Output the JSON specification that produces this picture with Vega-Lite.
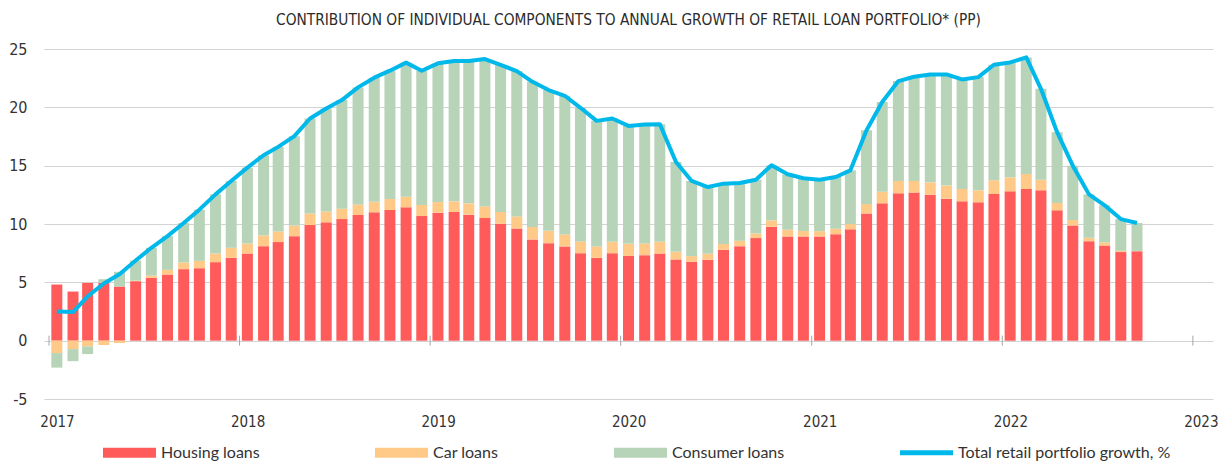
{
  "$schema": "https://vega.github.io/schema/vega-lite/v6.json",
  "width": 1169,
  "height": 350,
  "autosize": {"type": "none"},
  "padding": {"left": 44, "top": 49, "right": 19, "bottom": 69},
  "background": "white",
  "title": {
    "text": "CONTRIBUTION OF INDIVIDUAL COMPONENTS TO ANNUAL GROWTH OF RETAIL LOAN PORTFOLIO* (PP)",
    "font": "Liberation Sans Narrow, DejaVu Sans Condensed, Roboto",
    "fontSize": 15.3,
    "fontWeight": "normal",
    "color": "#2B2B2B",
    "anchor": "middle",
    "offset": 13
  },
  "datasets": {
    "monthly": [
      {"month": "2017-01-16", "housing": 4.81, "car": -1.06, "consumer": -1.25, "total": 2.5},
      {"month": "2017-02-16", "housing": 4.21, "car": -0.72, "consumer": -1.04, "total": 2.45},
      {"month": "2017-03-16", "housing": 4.95, "car": -0.49, "consumer": -0.66, "total": 3.8},
      {"month": "2017-04-16", "housing": 4.95, "car": -0.37, "consumer": 0.32, "total": 4.9},
      {"month": "2017-05-16", "housing": 4.64, "car": -0.2, "consumer": 1.26, "total": 5.7},
      {"month": "2017-06-16", "housing": 5.10, "car": 0.05, "consumer": 1.72, "total": 6.87},
      {"month": "2017-07-16", "housing": 5.38, "car": 0.2, "consumer": 2.38, "total": 7.96},
      {"month": "2017-08-16", "housing": 5.67, "car": 0.4, "consumer": 2.89, "total": 8.96},
      {"month": "2017-09-16", "housing": 6.13, "car": 0.57, "consumer": 3.38, "total": 10.08},
      {"month": "2017-10-16", "housing": 6.21, "car": 0.63, "consumer": 4.39, "total": 11.23},
      {"month": "2017-11-16", "housing": 6.73, "car": 0.74, "consumer": 5.07, "total": 12.54},
      {"month": "2017-12-16", "housing": 7.10, "car": 0.86, "consumer": 5.73, "total": 13.69},
      {"month": "2018-01-16", "housing": 7.47, "car": 0.86, "consumer": 6.50, "total": 14.83},
      {"month": "2018-02-16", "housing": 8.10, "car": 0.92, "consumer": 6.87, "total": 15.89},
      {"month": "2018-03-16", "housing": 8.45, "car": 0.91, "consumer": 7.25, "total": 16.61},
      {"month": "2018-04-16", "housing": 8.96, "car": 0.92, "consumer": 7.65, "total": 17.53},
      {"month": "2018-05-16", "housing": 9.91, "car": 1.00, "consumer": 8.13, "total": 19.04},
      {"month": "2018-06-16", "housing": 10.14, "car": 0.94, "consumer": 8.82, "total": 19.90},
      {"month": "2018-07-16", "housing": 10.42, "car": 0.89, "consumer": 9.31, "total": 20.62},
      {"month": "2018-08-16", "housing": 10.77, "car": 0.91, "consumer": 10.03, "total": 21.71},
      {"month": "2018-09-16", "housing": 11.00, "car": 0.91, "consumer": 10.63, "total": 22.54},
      {"month": "2018-10-16", "housing": 11.20, "car": 0.94, "consumer": 11.00, "total": 23.14},
      {"month": "2018-11-16", "housing": 11.43, "car": 0.91, "consumer": 11.49, "total": 23.83},
      {"month": "2018-12-16", "housing": 10.68, "car": 0.95, "consumer": 11.51, "total": 23.14},
      {"month": "2019-01-16", "housing": 10.97, "car": 0.91, "consumer": 11.89, "total": 23.77},
      {"month": "2019-02-16", "housing": 11.03, "car": 0.91, "consumer": 12.03, "total": 23.97},
      {"month": "2019-03-16", "housing": 10.80, "car": 0.97, "consumer": 12.20, "total": 23.97},
      {"month": "2019-04-16", "housing": 10.51, "car": 1.00, "consumer": 12.63, "total": 24.14},
      {"month": "2019-05-16", "housing": 10.02, "car": 1.01, "consumer": 12.60, "total": 23.63},
      {"month": "2019-06-16", "housing": 9.62, "car": 1.03, "consumer": 12.46, "total": 23.11},
      {"month": "2019-07-16", "housing": 8.68, "car": 1.06, "consumer": 12.45, "total": 22.19},
      {"month": "2019-08-16", "housing": 8.36, "car": 1.06, "consumer": 12.06, "total": 21.48},
      {"month": "2019-09-16", "housing": 8.08, "car": 1.03, "consumer": 11.88, "total": 20.99},
      {"month": "2019-10-16", "housing": 7.50, "car": 1.01, "consumer": 11.45, "total": 19.96},
      {"month": "2019-11-16", "housing": 7.10, "car": 0.98, "consumer": 10.76, "total": 18.84},
      {"month": "2019-12-16", "housing": 7.50, "car": 0.98, "consumer": 10.56, "total": 19.04},
      {"month": "2020-01-16", "housing": 7.27, "car": 1.03, "consumer": 10.11, "total": 18.41},
      {"month": "2020-02-16", "housing": 7.33, "car": 1.00, "consumer": 10.20, "total": 18.53},
      {"month": "2020-03-16", "housing": 7.47, "car": 1.01, "consumer": 10.08, "total": 18.56},
      {"month": "2020-04-16", "housing": 6.96, "car": 0.66, "consumer": 7.70, "total": 15.32},
      {"month": "2020-05-16", "housing": 6.76, "car": 0.49, "consumer": 6.44, "total": 13.69},
      {"month": "2020-06-16", "housing": 6.93, "car": 0.52, "consumer": 5.72, "total": 13.17},
      {"month": "2020-07-16", "housing": 7.79, "car": 0.49, "consumer": 5.18, "total": 13.46},
      {"month": "2020-08-16", "housing": 8.10, "car": 0.46, "consumer": 4.96, "total": 13.52},
      {"month": "2020-09-16", "housing": 8.79, "car": 0.40, "consumer": 4.61, "total": 13.80},
      {"month": "2020-10-16", "housing": 9.77, "car": 0.54, "consumer": 4.72, "total": 15.03},
      {"month": "2020-11-16", "housing": 8.93, "car": 0.58, "consumer": 4.75, "total": 14.26},
      {"month": "2020-12-16", "housing": 8.93, "car": 0.47, "consumer": 4.52, "total": 13.92},
      {"month": "2021-01-16", "housing": 8.93, "car": 0.46, "consumer": 4.41, "total": 13.80},
      {"month": "2021-02-16", "housing": 9.13, "car": 0.46, "consumer": 4.44, "total": 14.03},
      {"month": "2021-03-16", "housing": 9.54, "car": 0.45, "consumer": 4.61, "total": 14.60},
      {"month": "2021-04-16", "housing": 10.91, "car": 0.80, "consumer": 6.33, "total": 18.04},
      {"month": "2021-05-16", "housing": 11.77, "car": 1.00, "consumer": 7.68, "total": 20.45},
      {"month": "2021-06-16", "housing": 12.63, "car": 1.06, "consumer": 8.56, "total": 22.25},
      {"month": "2021-07-16", "housing": 12.69, "car": 1.00, "consumer": 8.93, "total": 22.62},
      {"month": "2021-08-16", "housing": 12.51, "car": 1.06, "consumer": 9.25, "total": 22.82},
      {"month": "2021-09-16", "housing": 12.17, "car": 1.12, "consumer": 9.53, "total": 22.82},
      {"month": "2021-10-16", "housing": 11.94, "car": 1.06, "consumer": 9.39, "total": 22.39},
      {"month": "2021-11-16", "housing": 11.86, "car": 1.03, "consumer": 9.70, "total": 22.59},
      {"month": "2021-12-16", "housing": 12.57, "car": 1.18, "consumer": 9.90, "total": 23.65},
      {"month": "2022-01-16", "housing": 12.80, "car": 1.20, "consumer": 9.85, "total": 23.85},
      {"month": "2022-02-16", "housing": 13.00, "car": 1.29, "consumer": 9.99, "total": 24.28},
      {"month": "2022-03-16", "housing": 12.89, "car": 0.91, "consumer": 7.79, "total": 21.59},
      {"month": "2022-04-16", "housing": 11.17, "car": 0.63, "consumer": 6.07, "total": 17.87},
      {"month": "2022-05-16", "housing": 9.88, "car": 0.46, "consumer": 4.66, "total": 15.0},
      {"month": "2022-06-16", "housing": 8.53, "car": 0.29, "consumer": 3.72, "total": 12.54},
      {"month": "2022-07-16", "housing": 8.16, "car": 0.26, "consumer": 3.18, "total": 11.60},
      {"month": "2022-08-16", "housing": 7.59, "car": 0.11, "consumer": 2.72, "total": 10.42},
      {"month": "2022-09-16", "housing": 7.67, "car": 0.02, "consumer": 2.39, "total": 10.08}
    ],
    "series": [
      {"key": "housing", "label": "Housing loans", "rank": 1},
      {"key": "car", "label": "Car loans", "rank": 2},
      {"key": "consumer", "label": "Consumer loans", "rank": 3}
    ],
    "years": [
      {"year": "2017-01-01"}, {"year": "2018-01-01"}, {"year": "2019-01-01"},
      {"year": "2020-01-01"}, {"year": "2021-01-01"}, {"year": "2022-01-01"}, {"year": "2023-01-01"}
    ]
  },
  "layer": [
    {
      "data": {"name": "monthly"},
      "transform": [
        {"fold": ["housing", "car", "consumer"], "as": ["key", "value"]},
        {"lookup": "key", "from": {"data": {"name": "series"}, "key": "key", "fields": ["label", "rank"]}}
      ],
      "mark": {"type": "bar", "width": 11},
      "encoding": {
        "x": {
          "field": "month",
          "type": "temporal",
          "scale": {
            "type": "utc",
            "domain": [
              {"year": 2017, "month": 1, "date": 1, "utc": true},
              {"year": 2023, "month": 1, "date": 30, "utc": true}
            ]
          },
          "axis": {
            "title": null,
            "format": "%Y",
            "tickCount": {"interval": "year", "step": 1},
            "domain": false,
            "ticks": false,
            "tickSize": 0,
            "grid": false,
            "labelFlush": false,
            "labelOverlap": false,
            "labelBound": false,
            "labelOffset": 8,
            "labelPadding": 15,
            "labelFont": "Liberation Sans Narrow, DejaVu Sans Condensed, Roboto",
            "labelFontSize": 15,
            "labelColor": "#333333"
          }
        },
        "y": {
          "field": "value",
          "type": "quantitative",
          "stack": "zero",
          "scale": {"domain": [-5, 25], "nice": false, "zero": false},
          "axis": {
            "title": null,
            "values": [-5, 0, 5, 10, 15, 20, 25],
            "labelExpr": "'' + datum.value",
            "domain": false,
            "ticks": false,
            "tickSize": 0,
            "grid": true,
            "gridColor": "#D3D3D3",
            "gridWidth": 1,
            "labelPadding": 17,
            "labelFont": "Liberation Sans Narrow, DejaVu Sans Condensed, Roboto",
            "labelFontSize": 16,
            "labelColor": "#333333"
          }
        },
        "color": {
          "field": "label",
          "type": "nominal",
          "scale": {
            "domain": ["Housing loans", "Car loans", "Consumer loans", "Total retail portfolio growth, %"],
            "range": ["#FF5B5B", "#FFC987", "#B8D4B8", "#00B9EA"]
          },
          "legend": {
            "title": null,
            "orient": "none",
            "legendX": 59,
            "legendY": 377,
            "direction": "horizontal",
            "columns": 4,
            "columnPadding": 115,
            "symbolSize": 2809,
            "symbolType": "M-1,-0.19H1V0.19H-1Z",
            "symbolStrokeWidth": 0,
            "labelOffset": 5,
            "labelFont": "Lato",
            "labelFontSize": 16,
            "labelColor": "#333333",
            "labelLimit": 400,
            "encode": {
              "symbols": {
                "update": {
                  "shape": {"signal": "datum.value === 'Total retail portfolio growth, %' ? 'M-1,-0.09H1V0.09H-1Z' : 'M-1,-0.19H1V0.19H-1Z'"},
                  "fill": {"scale": "color", "field": "value"},
                  "stroke": {"value": "transparent"},
                  "strokeWidth": {"value": 0},
                  "opacity": {"value": 1}
                }
              }
            }
          }
        },
        "order": {"field": "rank", "type": "quantitative"}
      }
    },
    {
      "data": {"name": "years"},
      "mark": {"type": "rule", "color": "#A6A6A6", "strokeWidth": 1},
      "encoding": {
        "x": {"field": "year", "type": "temporal"},
        "y": {"datum": -0.43, "type": "quantitative"},
        "y2": {"datum": 0.43}
      }
    },
    {
      "data": {"name": "monthly"},
      "mark": {"type": "line", "strokeWidth": 4, "strokeJoin": "round"},
      "encoding": {
        "x": {"field": "month", "type": "temporal"},
        "y": {"field": "total", "type": "quantitative"},
        "color": {"datum": "Total retail portfolio growth, %", "type": "nominal"}
      }
    }
  ],
  "config": {
    "view": {"stroke": null}
  }
}
